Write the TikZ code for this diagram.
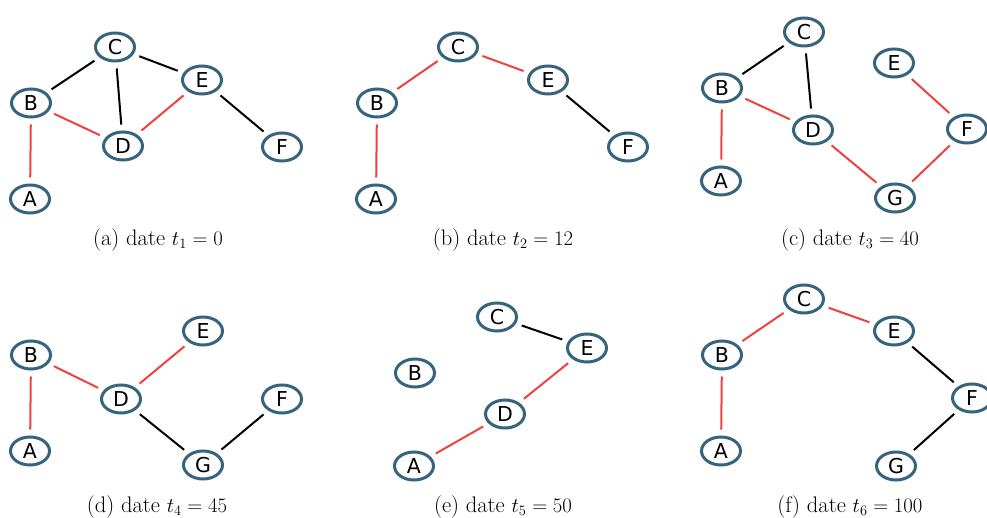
\documentclass[tikz,border=0pt]{standalone}
\usepackage{fontspec}
\usetikzlibrary{shapes.geometric}
\newfontfamily\nodefont{DejaVu Sans}
\definecolor{nodeblue}{RGB}{54,100,124}
\definecolor{edgered}{RGB}{240,64,64}
\begin{document}
\begin{tikzpicture}[x=1pt,y=-1pt,
  vtx/.style={ellipse,draw=nodeblue,line width=3pt,minimum width=39pt,minimum height=28pt,inner sep=0pt,font=\nodefont\fontsize{20.5}{20.5}\selectfont,fill=white},
  ed/.style={line width=2pt,shorten >=6pt,shorten <=6pt},
  rd/.style={ed,draw=edgered},
  bk/.style={ed,draw=black},
  captxt/.style={font=\fontsize{22.5}{26}\selectfont}]
\useasboundingbox (0,0) rectangle (987,518);
% (a)
\node[vtx] (aC) at (115,47) {C};
\node[vtx] (aE) at (202,80) {E};
\node[vtx] (aB) at (31,103) {B};
\node[vtx] (aD) at (123,146) {D};
\node[vtx] (aF) at (282,147) {F};
\node[vtx] (aA) at (30,199) {A};
\draw[bk] (aB) -- (aC);
\draw[bk] (aC) -- (aE);
\draw[bk] (aC) -- (aD);
\draw[bk] (aE) -- (aF);
\draw[rd] (aB) -- (aD);
\draw[rd] (aD) -- (aE);
\draw[rd] (aB) -- (aA);
\node[captxt] (capa) at (158,240) {(a) date $t_1 = 0$};
% (b)
\node[vtx] (bC) at (458,47) {C};
\node[vtx] (bE) at (548,80) {E};
\node[vtx] (bB) at (377,103) {B};
\node[vtx] (bF) at (628,147) {F};
\node[vtx] (bA) at (376,199) {A};
\draw[rd] (bB) -- (bA);
\draw[rd] (bB) -- (bC);
\draw[rd] (bC) -- (bE);
\draw[bk] (bE) -- (bF);
\node[captxt] (capb) at (503,240) {(b) date $t_2 = 12$};
% (c)
\node[vtx] (cC) at (804,32) {C};
\node[vtx] (cE) at (894,63) {E};
\node[vtx] (cB) at (722,88) {B};
\node[vtx] (cD) at (813,130) {D};
\node[vtx] (cF) at (967,129) {F};
\node[vtx] (cA) at (721,181) {A};
\node[vtx] (cG) at (895,198) {G};
\draw[bk] (cB) -- (cC);
\draw[bk] (cC) -- (cD);
\draw[rd] (cB) -- (cD);
\draw[rd] (cA) -- (cB);
\draw[rd] (cD) -- (cG);
\draw[rd] (cG) -- (cF);
\draw[rd] (cE) -- (cF);
\node[captxt] (capc) at (850,240) {(c) date $t_3 = 40$};
% (d)
\node[vtx] (dE) at (203,331) {E};
\node[vtx] (dB) at (31,355) {B};
\node[vtx] (dD) at (121,399) {D};
\node[vtx] (dF) at (282,399) {F};
\node[vtx] (dA) at (30,451) {A};
\node[vtx] (dG) at (203,465) {G};
\draw[rd] (dA) -- (dB);
\draw[rd] (dB) -- (dD);
\draw[rd] (dD) -- (dE);
\draw[bk] (dD) -- (dG);
\draw[bk] (dG) -- (dF);
\node[captxt] (capd) at (157,507) {(d) date $t_4 = 45$};
% (e)
\node[vtx] (eC) at (497,317) {C};
\node[vtx] (eE) at (587,348) {E};
\node[vtx] (eB) at (415,373) {B};
\node[vtx] (eD) at (505,414) {D};
\node[vtx] (eA) at (414,466) {A};
\draw[bk] (eC) -- (eE);
\draw[rd] (eE) -- (eD);
\draw[rd] (eD) -- (eA);
\node[captxt] (cape) at (503,507) {(e) date $t_5 = 50$};
% (f)
\node[vtx] (fC) at (804,299) {C};
\node[vtx] (fE) at (894,331) {E};
\node[vtx] (fB) at (722,355) {B};
\node[vtx] (fF) at (972,398) {F};
\node[vtx] (fA) at (721,451) {A};
\node[vtx] (fG) at (896,466) {G};
\draw[rd] (fA) -- (fB);
\draw[rd] (fB) -- (fC);
\draw[rd] (fC) -- (fE);
\draw[bk] (fE) -- (fF);
\draw[bk] (fF) -- (fG);
\node[captxt] (capf) at (850,507) {(f) date $t_6 = 100$};
\end{tikzpicture}
\end{document}
